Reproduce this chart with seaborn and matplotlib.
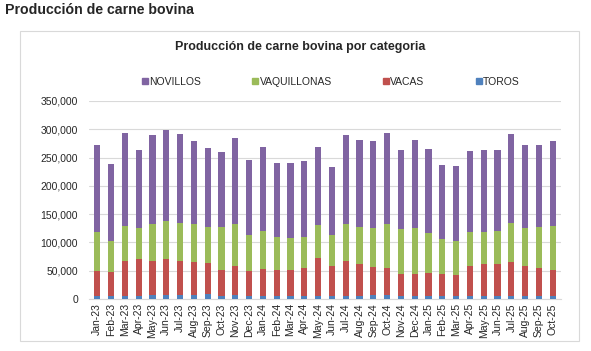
import seaborn as sns
import pandas as pd
import matplotlib
matplotlib.use("Agg")
import matplotlib.pyplot as plt
from matplotlib.patches import Rectangle
from matplotlib.lines import Line2D
from matplotlib.ticker import FuncFormatter

months = ["Jan-23", "Feb-23", "Mar-23", "Apr-23", "May-23", "Jun-23", "Jul-23", "Aug-23",
          "Sep-23", "Oct-23", "Nov-23", "Dec-23", "Jan-24", "Feb-24", "Mar-24", "Apr-24",
          "May-24", "Jun-24", "Jul-24", "Aug-24", "Sep-24", "Oct-24", "Nov-24", "Dec-24",
          "Jan-25", "Feb-25", "Mar-25", "Apr-25", "May-25", "Jun-25", "Jul-25", "Aug-25",
          "Sep-25", "Oct-25"]

# stacked tops
total = [273000, 239000, 294000, 264000, 290000, 298000, 292000, 280000, 267000, 260000,
         285000, 246000, 269000, 240000, 241000, 244000, 268000, 233000, 290000, 281000,
         279000, 293000, 263000, 281000, 266000, 237000, 235000, 261000, 263000, 263000,
         292000, 272000, 273000, 279000]
upto_vaquillonas = [118000, 103000, 129000, 126000, 133000, 138000, 135000, 133000, 127000, 127000,
                    132000, 114000, 120000, 109000, 108000, 110000, 130000, 113000, 133000, 128000,
                    125000, 133000, 123000, 126000, 117000, 106000, 102000, 119000, 119000, 121000,
                    135000, 125000, 127000, 129000]
upto_vacas = [50000, 48000, 67000, 70000, 68000, 71000, 68000, 65000, 63000, 52000,
              59000, 50000, 53000, 52000, 52000, 55000, 73000, 59000, 67000, 61000,
              56000, 54000, 45000, 44000, 46000, 44000, 42000, 59000, 61000, 61000,
              66000, 59000, 54000, 52000]
toros = [6000, 6000, 6000, 6000, 7000, 7000, 7000, 7000, 8000, 6000,
         7000, 6000, 6000, 6000, 6000, 6000, 6000, 5000, 6000, 6000,
         7000, 7000, 6000, 6000, 5000, 5000, 5000, 5000, 5000, 5000,
         6000, 6000, 6000, 6000]

series = ["NOVILLOS", "VAQUILLONAS", "VACAS", "TOROS"]
colors = ["#8064A2", "#9BBB59", "#C0504D", "#4F81BD"]

df = pd.DataFrame({"mes": months, "NOVILLOS": total, "VAQUILLONAS": upto_vaquillonas,
                   "VACAS": upto_vacas, "TOROS": toros})

sns.set_style("white")
plt.rcParams["font.family"] = ["Liberation Sans", "DejaVu Sans"]

fig = plt.figure(figsize=(5.91, 3.51), dpi=100)
ax = fig.add_axes([89 / 591, 1 - 299 / 351, (561 - 89) / 591, (299 - 101) / 351])

for i, (name, col) in enumerate(zip(series, colors)):
    sns.barplot(data=df, x="mes", y=name, color=col, width=0.45, ax=ax,
                saturation=1, linewidth=0, zorder=3 + i)

ax.set_ylim(0, 350000)
ax.set_yticks(range(0, 350001, 50000))
ax.yaxis.set_major_formatter(FuncFormatter(lambda v, p: f"{int(v):,}"))
ax.grid(axis="y", color="#d9d9d9", linewidth=0.8)
ax.set_axisbelow(True)
for s in ["top", "right", "left"]:
    ax.spines[s].set_visible(False)
ax.spines["bottom"].set_color("#d9d9d9")
ax.spines["bottom"].set_zorder(1)
ax.set_xlabel("")
ax.set_ylabel("")
ax.tick_params(axis="x", rotation=90, labelsize=7.5, length=0, pad=3)
ax.tick_params(axis="y", labelsize=7.5, length=0, pad=8)
ax.set_xlim(-0.6, len(months) - 0.4)

# chart box
fig.patches.append(Rectangle((20 / 591, 1 - 341 / 351), 559 / 591, 310 / 351,
                             transform=fig.transFigure, fill=False,
                             edgecolor="#d9d9d9", linewidth=0.8))

fig.text(5 / 591, 1 - 10 / 351, "Producción de carne bovina", fontsize=10.2,
         fontweight="bold", va="center", ha="left")
fig.text(300 / 591, 1 - 47 / 351, "Producción de carne bovina por categoria", fontsize=9,
         fontweight="bold", va="center", ha="center")

handles = [Line2D([], [], marker="s", linestyle="", color=c, markersize=4) for c in colors]
fig.legend(handles, series, loc="center left", bbox_to_anchor=(142 / 591, 1 - 82 / 351),
           ncol=4, frameon=False, fontsize=7.5, handlelength=0.6, handletextpad=0.1,
           columnspacing=4.9, borderpad=0, borderaxespad=0)

fig.savefig("out.png", dpi=100, facecolor="white")
